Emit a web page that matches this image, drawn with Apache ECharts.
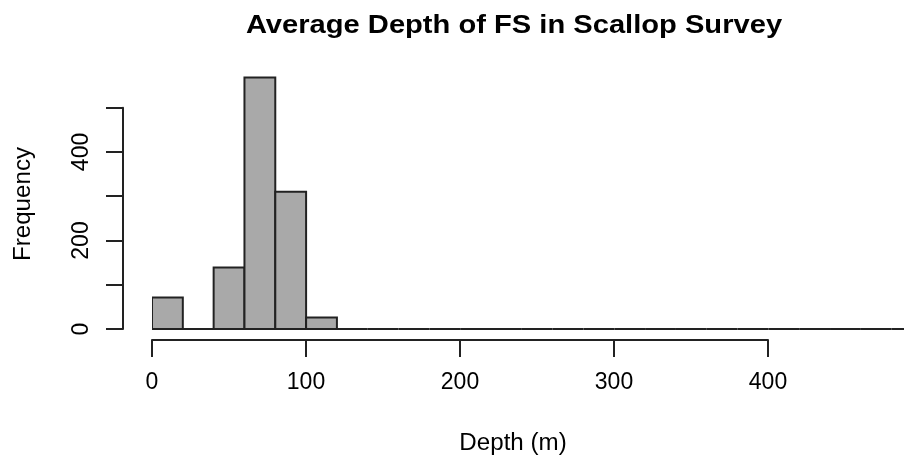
<!DOCTYPE html>
<html>
<head>
<meta charset="utf-8">
<script src="https://cdn.jsdelivr.net/npm/echarts@6/dist/echarts.min.js"></script>
<style>
  html, body { margin: 0; padding: 0; background: #fff; }
  #chart { width: 911px; height: 458px; }
</style>
</head>
<body>
<div id="chart"></div>
<script>
// Histogram bins (20 m wide) and their counts
const binWidth = 20;
const binStarts = [0, 20, 40, 60, 80, 100, 120, 140, 160, 180, 200, 220, 240, 260, 280,
                   300, 320, 340, 360, 380, 400, 420, 440, 460, 480];
const counts = [71, 0, 139, 568, 310, 26, 0, 0, 0, 0, 0, 0, 0, 0, 0,
                0, 0, 0, 0, 0, 0, 0, 0, 0, 0];
const xTicks = [0, 100, 200, 300, 400];
const yTicks = [0, 100, 200, 300, 400, 500];
const yLabelled = [0, 200, 400];

const titleText = 'Average Depth of FS in Scallop Survey';
const xTitle = 'Depth (m)';
const yTitle = 'Frequency';

const FONT = '"Liberation Sans", Arial, sans-serif';
const INK = '#222';

const chart = echarts.init(document.getElementById('chart'), null, { renderer: 'canvas' });

const histData = binStarts.map((s, i) => [s, s + binWidth, counts[i]]);

chart.setOption({
  animation: false,
  backgroundColor: '#fff',
  textStyle: { fontFamily: FONT },
  grid: [
    // plotting region for the bars (a little room below zero so outlines are not cut)
    { left: 152, right: 7, top: 63.4, bottom: 120.15 },
    // region carrying the visible axes (tick ranges only)
    { left: 152, right: 143, top: 107.7, bottom: 129 }
  ],
  xAxis: [
    { gridIndex: 0, type: 'value', min: 0, max: 488, show: false },
    {
      gridIndex: 1, type: 'value', min: xTicks[0], max: xTicks[xTicks.length - 1], interval: 100,
      position: 'bottom', offset: 11,
      axisLine: { show: true, onZero: false, lineStyle: { color: INK, width: 2 } },
      axisTick: { show: true, length: 17, lineStyle: { color: INK, width: 2 } },
      axisLabel: { show: true, margin: 31, color: '#000', fontSize: 23, fontFamily: FONT,
                   formatter: v => (xTicks.includes(v) ? String(v) : '') },
      splitLine: { show: false }
    }
  ],
  yAxis: [
    { gridIndex: 0, type: 'value', min: -20, max: 600, show: false },
    {
      gridIndex: 1, type: 'value', min: yTicks[0], max: yTicks[yTicks.length - 1], interval: 100,
      position: 'left', offset: 29,
      axisLine: { show: true, onZero: false, lineStyle: { color: INK, width: 2 } },
      axisTick: { show: true, length: 17, lineStyle: { color: INK, width: 2 } },
      axisLabel: { show: true, rotate: 90, margin: 30, color: '#000', fontSize: 23, fontFamily: FONT,
                   formatter: v => (yLabelled.includes(v) ? String(v) : '') },
      splitLine: { show: false }
    }
  ],
  series: [{
    type: 'custom',
    xAxisIndex: 0,
    yAxisIndex: 0,
    clip: true,
    data: histData,
    renderItem: function (params, api) {
      const p0 = api.coord([api.value(0), 0]);
      const p1 = api.coord([api.value(1), api.value(2)]);
      return {
        type: 'rect',
        shape: { x: p0[0], y: p1[1], width: p1[0] - p0[0], height: p0[1] - p1[1] },
        style: { fill: '#a9a9a9', stroke: INK, lineWidth: 2 }
      };
    }
  }],
  graphic: [
    {
      type: 'text', x: 514, y: 26, scaleX: 1.12,
      style: { text: titleText, font: 'bold 26px ' + FONT, fill: '#000', align: 'center', verticalAlign: 'middle' }
    },
    {
      type: 'text', x: 513, y: 444, scaleX: 1.05,
      style: { text: xTitle, font: '23px ' + FONT, fill: '#000', align: 'center', verticalAlign: 'middle' }
    },
    {
      type: 'text', x: 24, y: 204, rotation: Math.PI / 2, scaleX: 1.05,
      style: { text: yTitle, font: '23px ' + FONT, fill: '#000', align: 'center', verticalAlign: 'middle' }
    }
  ]
});
</script>
</body>
</html>
